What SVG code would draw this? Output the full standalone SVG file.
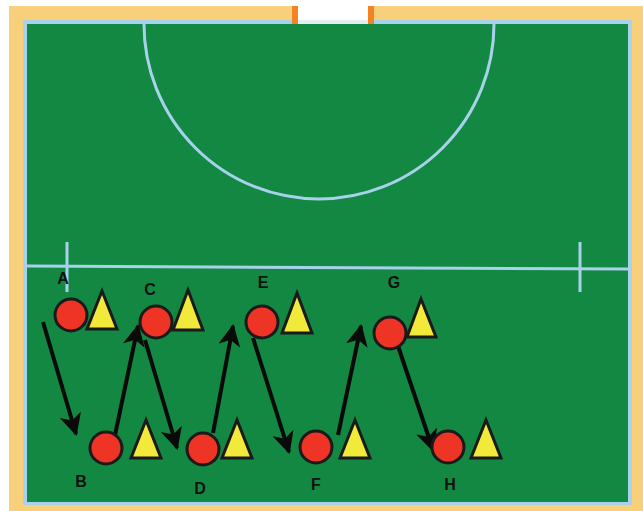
<svg xmlns="http://www.w3.org/2000/svg" width="643" height="511" viewBox="0 0 643 511">
<style>
.player{fill:#EE3424;stroke:#1a1a1a;stroke-width:3}
.cone{fill:#F2EA3A;stroke:#1a1a1a;stroke-width:3;stroke-linejoin:miter}
.lbl{font-family:"Liberation Sans",Arial,sans-serif;font-weight:bold;font-size:16px;fill:#111;text-anchor:middle}
.mark{fill:none;stroke:#A8D2EC;stroke-width:3}
.run{stroke:#0a0a0a;stroke-width:4;fill:none;marker-end:url(#ah)}
</style>
<defs>
<marker id="ah" viewBox="0 0 22 22" refX="20" refY="11" markerWidth="22" markerHeight="22" markerUnits="userSpaceOnUse" orient="auto">
<path d="M0,0 L22,11 L0,22 L6,11 Z" fill="#0a0a0a"/>
</marker>
</defs>
<rect x="0" y="0" width="643" height="511" fill="#ffffff"/>
<g id="pitch">
<rect x="9" y="6" width="634" height="505" fill="#F8D07C"/>
<rect x="23" y="20" width="609" height="485" fill="#A8D2EC"/>
<rect x="27" y="24" width="601" height="478" fill="#138843"/>
<rect x="292" y="0" width="82" height="24" fill="#ffffff"/>
<rect x="292" y="6" width="6" height="18" fill="#F58220"/>
<rect x="368" y="6" width="6" height="18" fill="#F58220"/>
<rect x="298" y="20" width="70" height="4" fill="#E4ECF2"/>
<path class="mark" d="M144,24 A175,175 0 0 0 494,24"/>
<line class="mark" x1="27" y1="266" x2="628" y2="269"/>
<line class="mark" x1="67" y1="242" x2="67" y2="292"/>
<line class="mark" x1="580" y1="242" x2="580" y2="292"/>
</g>
<g id="connectors">
<line class="run" x1="43" y1="322" x2="76" y2="434"/>
<line class="run" x1="115" y1="435" x2="138" y2="326"/>
<line class="run" x1="145" y1="340" x2="177" y2="448"/>
<line class="run" x1="213" y1="433" x2="233" y2="326"/>
<line class="run" x1="253" y1="338" x2="289" y2="452"/>
<line class="run" x1="338" y1="435" x2="361" y2="326"/>
<line class="run" x1="397" y1="343" x2="433" y2="450"/>
</g>
<g id="A"><circle class="player" cx="71" cy="315" r="16"/><polygon class="cone" points="102,291 117,329 87,329"/><text class="lbl" x="63" y="284">A</text></g>
<g id="C"><circle class="player" cx="156" cy="322" r="16"/><polygon class="cone" points="188,290 203,330 173,330"/><text class="lbl" x="150" y="295">C</text></g>
<g id="E"><circle class="player" cx="262" cy="322" r="16"/><polygon class="cone" points="297,293 312,333 282,333"/><text class="lbl" x="263" y="288">E</text></g>
<g id="G"><circle class="player" cx="390" cy="333" r="16"/><polygon class="cone" points="421,299 436,337 407,337"/><text class="lbl" x="394" y="288">G</text></g>
<g id="B"><circle class="player" cx="106" cy="448" r="16"/><polygon class="cone" points="146,420 161,458 131,458"/><text class="lbl" x="81" y="487">B</text></g>
<g id="D"><circle class="player" cx="203" cy="449" r="16"/><polygon class="cone" points="237,420 252,458 222,458"/><text class="lbl" x="200" y="494">D</text></g>
<g id="F"><circle class="player" cx="316" cy="447" r="16"/><polygon class="cone" points="355,420 370,458 340,458"/><text class="lbl" x="316" y="490">F</text></g>
<g id="H"><circle class="player" cx="448" cy="447" r="16"/><polygon class="cone" points="486,420 501,458 471,458"/><text class="lbl" x="450" y="490">H</text></g>
</svg>
